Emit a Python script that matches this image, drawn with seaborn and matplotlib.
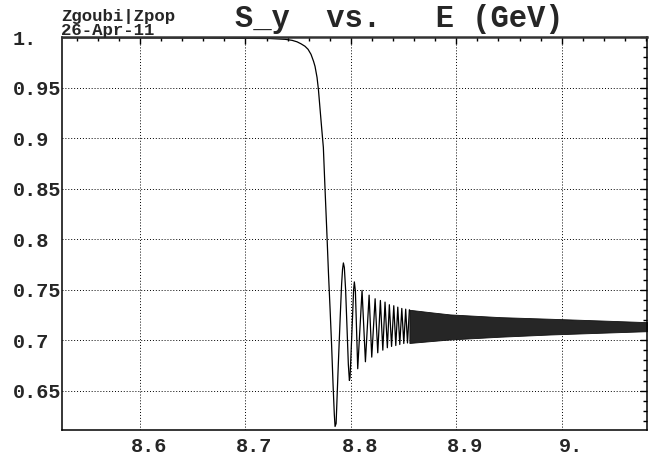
import matplotlib
matplotlib.use("Agg")
import matplotlib.pyplot as plt
import matplotlib.transforms as mtransforms
from matplotlib.ticker import MultipleLocator
import seaborn as sns
import pandas as pd

# ---- data ----
energy_gev = [8.5260, 8.6569, 8.6977, 8.7233, 8.7376, 8.7442, 8.7490, 8.7528,
              8.7565, 8.7594, 8.7622, 8.7646, 8.7660, 8.7679, 8.7692, 8.7708,
              8.7724, 8.7739, 8.7755, 8.7771, 8.7788, 8.7803, 8.7817, 8.7831,
              8.7843, 8.7850, 8.7860, 8.7879, 8.7898, 8.7912, 8.7921, 8.7929,
              8.7938, 8.7950, 8.7964, 8.7976, 8.7986, 8.7992, 8.8011, 8.8026,
              8.8033, 8.8043, 8.8065, 8.8106, 8.8138, 8.8173, 8.8198, 8.8230,
              8.8255, 8.8280, 8.8303, 8.8324, 8.8346, 8.8365, 8.8386, 8.8407,
              8.8426, 8.8445, 8.8464, 8.8483, 8.8502, 8.8520, 8.8537, 8.8555]
s_y = [0.9995, 0.9993, 0.9990, 0.9988, 0.9980, 0.9970, 0.9955, 0.9935,
       0.9911, 0.9881, 0.9831, 0.9762, 0.9712, 0.9603, 0.9485, 0.9286,
       0.9088, 0.8910, 0.8494, 0.8097, 0.7651, 0.7304, 0.6957, 0.6561,
       0.6263, 0.6145, 0.6174, 0.6710, 0.7206, 0.7552, 0.7701, 0.7765,
       0.7720, 0.7501, 0.7106, 0.6760, 0.6601, 0.6630, 0.7106, 0.7501,
       0.7577, 0.7483, 0.6717, 0.7493, 0.6786, 0.7446, 0.6832, 0.7410,
       0.6875, 0.7393, 0.6901, 0.7377, 0.6925, 0.7351, 0.6938, 0.7341,
       0.6947, 0.7327, 0.6957, 0.7314, 0.6967, 0.7307, 0.6972, 0.7301]

# envelope of the unresolved fast-oscillation band
band_e = [8.8555, 8.8752, 8.8941, 8.9416, 8.9890, 9.0364, 9.0820]
band_hi = [0.7301, 0.7277, 0.7255, 0.7228, 0.7212, 0.7195, 0.7178]
band_lo = [0.6972, 0.6990, 0.7007, 0.7034, 0.7056, 0.7073, 0.7089]

x_ticks = [8.6, 8.7, 8.8, 8.9, 9.0]
x_tick_labels = ["8.6", "8.7", "8.8", "8.9", "9."]
y_ticks = [0.65, 0.7, 0.75, 0.8, 0.85, 0.9, 0.95, 1.0]
y_tick_labels = ["0.65", "0.7", "0.75", "0.8", "0.85", "0.9", "0.95", "1."]

title = "S_y  vs.   E (GeV)"
stamp = "Zgoubi|Zpop\n26-Apr-11"

# ---- style ----
sns.set_style("white")
plt.rcParams["font.family"] = ["Liberation Mono", "DejaVu Sans Mono"]
plt.rcParams["font.weight"] = "bold"

fig = plt.figure(figsize=(6.57, 4.55), dpi=100)
ax = fig.add_axes([62 / 657, 1 - 430 / 455, (646.7 - 62) / 657, (430 - 37.3) / 455])

df = pd.DataFrame({"E": energy_gev, "S": s_y})
sns.lineplot(data=df, x="E", y="S", ax=ax, color="black", linewidth=0.9,
             sort=False, estimator=None)
ax.fill_between(band_e, band_lo, band_hi, color="#262626", linewidth=0.6,
                edgecolor="#111111")

ax.set_xlim(8.526, 9.0806)
ax.set_ylim(0.611, 1.0)
ax.set_xlabel("")
ax.set_ylabel("")

ax.set_xticks(x_ticks)
ax.set_xticklabels(x_tick_labels)
ax.set_yticks(y_ticks)
ax.set_yticklabels(y_tick_labels)
ax.xaxis.set_minor_locator(MultipleLocator(0.02))
ax.yaxis.set_minor_locator(MultipleLocator(0.01))

ax.tick_params(which="both", direction="in", top=True, right=True,
               color="black", width=1.0)
ax.tick_params(which="major", length=5)
ax.tick_params(which="minor", length=2.6)
ax.tick_params(axis="x", which="major", pad=4.8, labelsize=14.5)
ax.tick_params(axis="y", which="major", pad=35.3, labelsize=14.5)

for lab in ax.get_yticklabels():
    lab.set_horizontalalignment("left")
    lab.set_fontweight("bold")
shift = mtransforms.ScaledTranslation(9 / 100, 0, fig.dpi_scale_trans)
for lab in ax.get_xticklabels():
    lab.set_fontweight("bold")
    lab.set_transform(lab.get_transform() + shift)

ax.grid(True, which="major", color="black", linestyle=(0, (1, 2)),
        linewidth=0.7)

for side in ["left", "right", "bottom"]:
    ax.spines[side].set_color("black")
    ax.spines[side].set_linewidth(1.1)
ax.spines["top"].set_color("#333333")
ax.spines["top"].set_linewidth(1.8)

fig.text(399.5 / 657, 1 - 27 / 455, title, ha="center", va="baseline",
         fontsize=22, fontweight="bold")
fig.text(61 / 657, 1 - 35 / 455, stamp, ha="left", va="baseline",
         fontsize=12.5, fontweight="bold", linespacing=0.95)

fig.savefig("out.png", dpi=100)
